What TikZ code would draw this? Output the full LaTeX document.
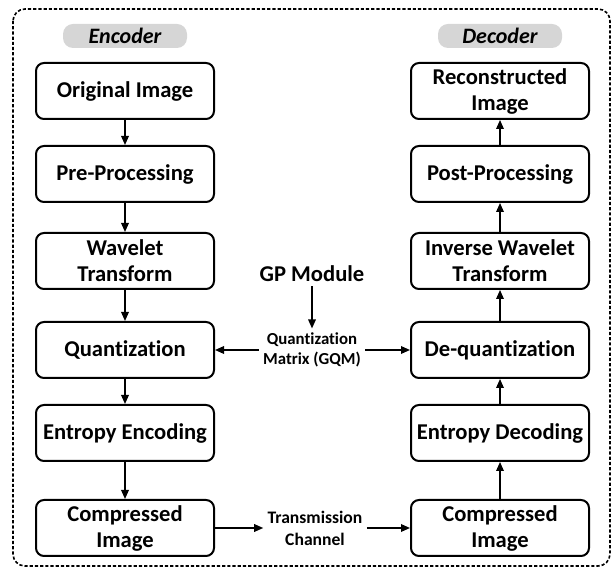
\documentclass[tikz,border=0pt]{standalone}
\usepackage{fontspec}
\setmainfont{Carlito}[Ligatures=CommonOff]
\usetikzlibrary{arrows.meta}

\tikzset{
  block/.style={draw, line width=1pt, rounded corners=4pt, minimum width=89pt,
    minimum height=28pt, align=center, inner sep=1pt,
    font=\bfseries\fontsize{11.3}{13}\selectfont},
  tab/.style={fill=black!16, rounded corners=5pt, minimum width=62pt,
    minimum height=12pt, inner sep=1pt,
    font=\bfseries\itshape\fontsize{11}{13}\selectfont},
  note/.style={align=center, inner sep=2pt,
    font=\bfseries\fontsize{8.4}{10}\selectfont},
  flow/.style={-{Triangle[length=4.5pt,width=3.8pt]}, line width=0.7pt}
}

\begin{document}
\begin{tikzpicture}[x=0.5pt, y=-0.5pt]
    \useasboundingbox (0,0) rectangle (616,571);
    % dashed frame round both halves
    \draw[dash pattern=on 1.6pt off 1pt, line width=0.8pt, rounded corners=6pt] (13,9) rectangle (610,566);

    % encoder side
    \node[tab] (enc) at (125,36) {Encoder};
    \node[block] (orig) at (125,91) {Original Image};
    \node[block] (pre) at (125,174) {Pre-Processing};
    \node[block] (wave) at (125,261) {Wavelet\\Transform};
    \node[block] (quant) at (125,350) {Quantization};
    \node[block] (ent) at (125,433) {Entropy Encoding};
    \node[block] (comp) at (125,528) {Compressed\\Image};

    % decoder side
    \node[tab] (dec) at (500,36) {Decoder};
    \node[block] (recon) at (500,91) {Reconstructed\\Image};
    \node[block] (post) at (500,174) {Post-Processing};
    \node[block] (iwave) at (500,261) {Inverse Wavelet\\Transform};
    \node[block] (dequant) at (500,350) {De-quantization};
    \node[block] (entd) at (500,433) {Entropy Decoding};
    \node[block] (compd) at (500,528) {Compressed\\Image};

    % middle
    \node[note, font=\bfseries\fontsize{11.3}{13}\selectfont] (gp) at (312,274) {GP Module};
    \node[note] (gqm) at (312,350) {Quantization\\Matrix (GQM)};
    \node[note, font=\bfseries\fontsize{8.8}{11}\selectfont] (chan) at (315,528) {Transmission\\Channel};

    \draw[flow] (orig) -- (pre);
    \draw[flow] (pre) -- (wave);
    \draw[flow] (wave) -- (quant);
    \draw[flow] (quant) -- (ent);
    \draw[flow] (ent) -- (comp);

    \draw[flow] (compd) -- (entd);
    \draw[flow] (entd) -- (dequant);
    \draw[flow] (dequant) -- (iwave);
    \draw[flow] (iwave) -- (post);
    \draw[flow] (post) -- (recon);

    \draw[flow] (gp) -- (gqm);
    \draw[flow] (gqm) -- (quant);
    \draw[flow] (gqm) -- (dequant);
    \draw[flow] (comp) -- (chan);
    \draw[flow] (chan) -- (compd);
\end{tikzpicture}
\end{document}
